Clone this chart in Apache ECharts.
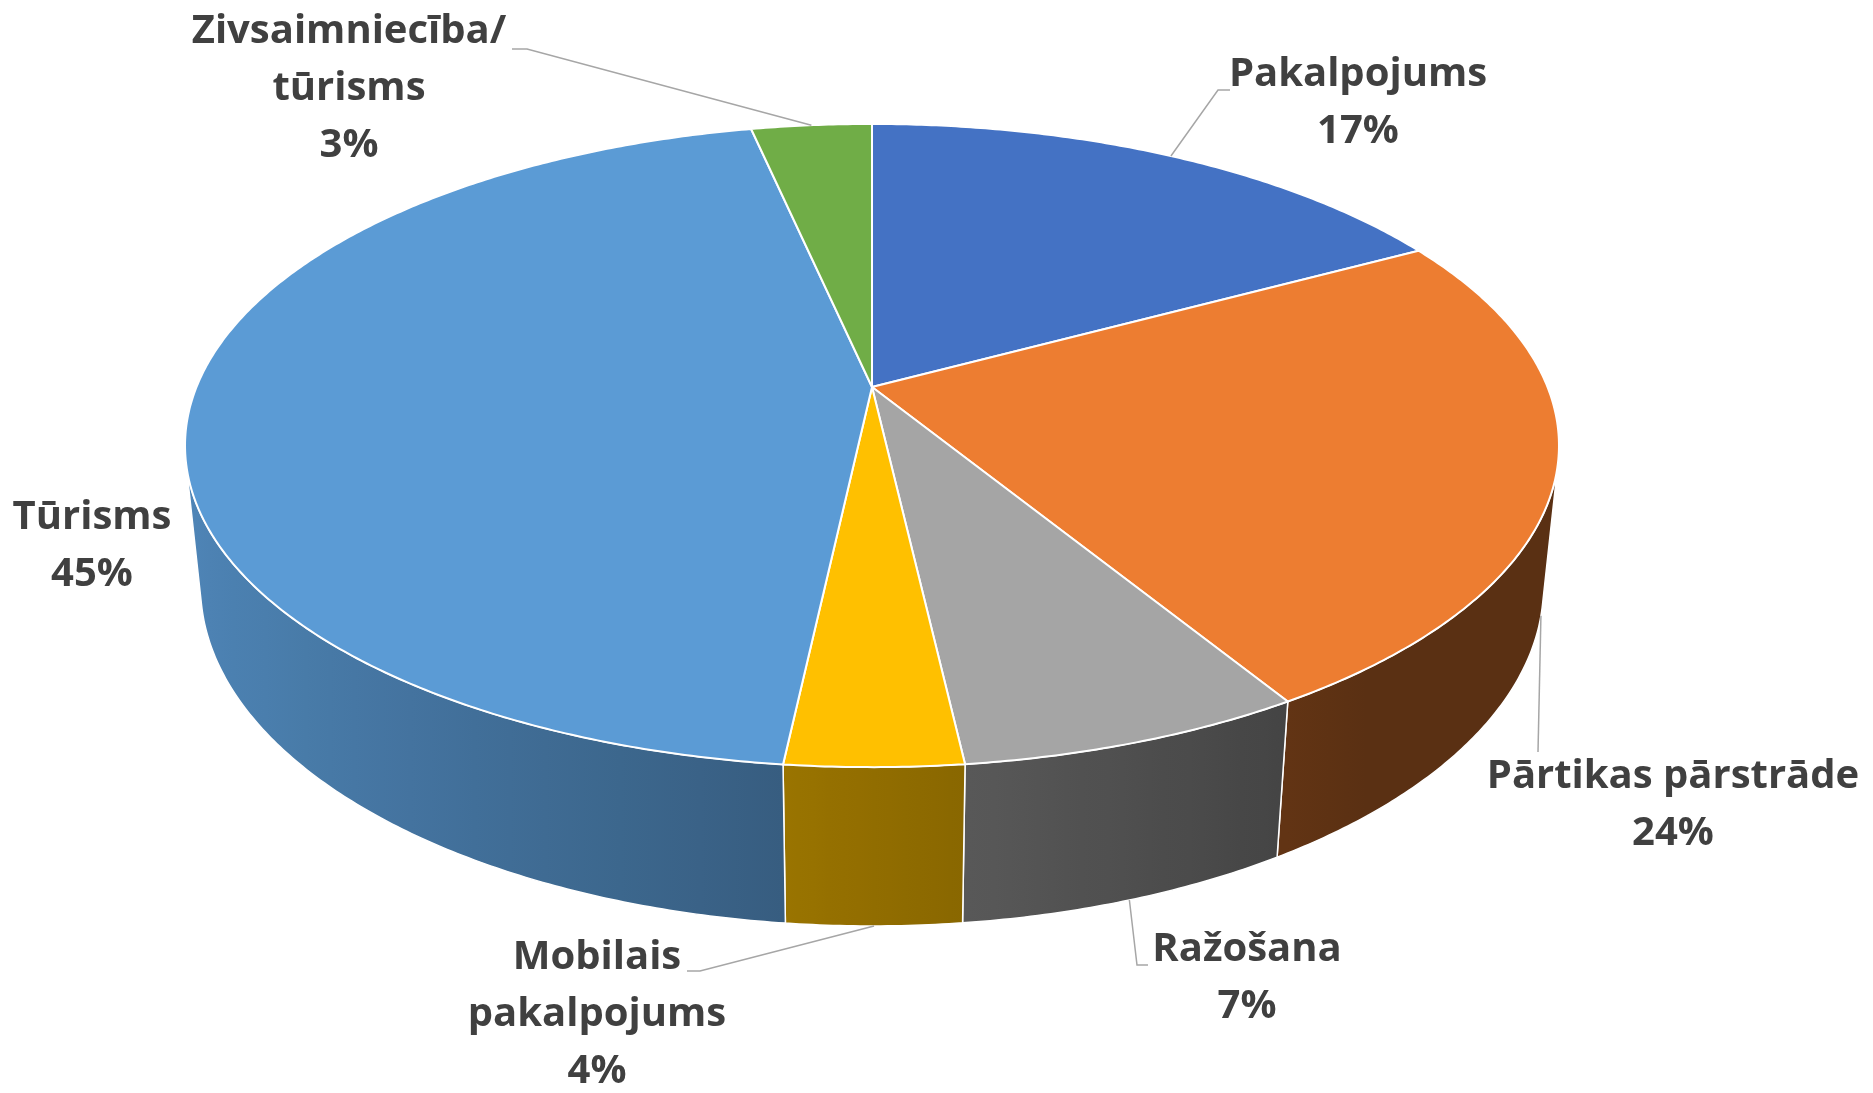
<!DOCTYPE html>
<html>
<head>
<meta charset="utf-8">
<title>Nozares</title>
<script src="https://cdn.jsdelivr.net/npm/echarts@6/dist/echarts.min.js"></script>
<style>
  html, body { margin: 0; padding: 0; background: #ffffff; }
  #chart { width: 1873px; height: 1093px; }
</style>
</head>
<body>
<div id="chart"></div>
<script>
// slice data (percent shares)
const categories = ['Pakalpojums', 'Pārtikas pārstrāde', 'Ražošana', 'Mobilais\npakalpojums', 'Tūrisms', 'Zivsaimniecība/\ntūrisms'];
const values = [17.1, 24.2, 6.9, 3.52, 44.9, 3.38];
const colors = ['#4472C4', '#ED7D31', '#A5A5A5', '#FFC000', '#5B9BD5', '#70AD47'];

// where each label sits (centre x, first baseline y) and its leader elbow points
const labelLayout = [
  { x: 1358, y: 90, level: 'top', leader: [[1218, 90], [1230, 90]] },
  { x: 1673, y: 792, level: 'bottom', leader: [[1538, 752]] },
  { x: 1247, y: 965, level: 'bottom', leader: [[1137, 965], [1148, 965]] },
  { x: 597, y: 973, level: 'bottom', leader: [[700, 971], [687, 971]] },
  { x: 92, y: 533, level: null, leader: null },
  { x: 349, y: 47, level: 'top', leader: [[527, 49], [512, 49]] }
];

// perspective camera for the tilted pie
const geo = { cx: 872, cy: 387, R: 675.5, sinA: 0.4603, cosA: 0.8878, L: 4.877, depth: 0.2367 };
const LINE_H = 57;
const FONT = 'bold 40px "Open Sans"';

const total = values.reduce((a, b) => a + b, 0);
const starts = [];
values.reduce((acc, v) => { starts.push(acc); return acc + v; }, 0);

function project(phi, z) {
  const x = Math.sin(phi);
  const y = -Math.cos(phi);
  const dc = y * geo.cosA + z * geo.sinA;
  const up = -y * geo.sinA + z * geo.cosA;
  const k = geo.L / (geo.L - dc);
  return [geo.cx + geo.R * x * k, geo.cy - geo.R * up * k];
}

function arc(a0, a1, z) {
  const n = Math.max(2, Math.ceil(Math.abs(a1 - a0) / (Math.PI / 360)));
  const pts = [];
  for (let i = 0; i <= n; i++) {
    pts.push(project(a0 + (a1 - a0) * i / n, z));
  }
  return pts;
}

function shade(hex, f) {
  const c = parseInt(hex.slice(1), 16);
  const r = Math.round(((c >> 16) & 255) * f);
  const g = Math.round(((c >> 8) & 255) * f);
  const b = Math.round((c & 255) * f);
  return 'rgb(' + r + ',' + g + ',' + b + ')';
}

function wallFactor(phi) {
  return Math.max(0.38, 0.57 - 0.3 * Math.sin(phi));
}

// half-width of the visible part of the outer wall, around the front
const wallHalf = Math.acos(1 / (geo.L * geo.cosA));

function renderItem(params, api) {
  const i = params.dataIndex;
  const v = api.value(0);
  const a0 = starts[i] / total * Math.PI * 2;
  const a1 = a0 + v / total * Math.PI * 2;
  const mid = (a0 + a1) / 2;
  const children = [];

  // outer wall
  const w0 = Math.max(a0, Math.PI - wallHalf);
  const w1 = Math.min(a1, Math.PI + wallHalf);
  if (w1 > w0) {
    const topArc = arc(w0, w1, 0);
    const botArc = arc(w1, w0, -geo.depth);
    const xs = topArc.map(p => p[0]);
    const xMin = Math.min.apply(null, xs);
    const xMax = Math.max.apply(null, xs);
    const stops = [];
    const n = 12;
    for (let s = 0; s <= n; s++) {
      const phi = w0 + (w1 - w0) * s / n;
      const px = project(phi, 0)[0];
      stops.push({ offset: (px - xMin) / (xMax - xMin || 1), color: shade(colors[i], wallFactor(phi)) });
    }
    stops.sort((p, q) => p.offset - q.offset);
    children.push({
      type: 'polygon',
      z2: 1,
      shape: { points: topArc.concat(botArc) },
      style: {
        fill: new echarts.graphic.LinearGradient(xMin, 0, xMax, 0, stops, true),
        stroke: '#ffffff',
        lineWidth: 1.5
      }
    });
  }

  // top face (pie centre is the projected origin)
  children.push({
    type: 'polygon',
    z2: 2,
    shape: { points: [[geo.cx, geo.cy]].concat(arc(a0, a1, 0)) },
    style: { fill: colors[i], stroke: '#ffffff', lineWidth: 2, lineJoin: 'round' }
  });

  // leader line
  const lay = labelLayout[i];
  if (lay.leader) {
    const anchor = project(mid, lay.level === 'top' ? 0 : -geo.depth);
    children.push({
      type: 'polyline',
      z2: 3,
      shape: { points: [anchor].concat(lay.leader) },
      style: { stroke: '#a6a6a6', lineWidth: 1.5, fill: null }
    });
  }

  // label text
  const lines = categories[i].split('\n').concat([Math.round(v / total * 100) + '%']);
  lines.forEach((t, j) => {
    children.push({
      type: 'text',
      z2: 4,
      style: {
        text: t,
        x: lay.x,
        y: lay.y + j * LINE_H - 15,
        font: FONT,
        fill: '#404040',
        align: 'center',
        verticalAlign: 'middle'
      }
    });
  });

  return { type: 'group', children: children };
}

const chart = echarts.init(document.getElementById('chart'));
chart.setOption({
  animation: false,
  backgroundColor: '#ffffff',
  series: [{
    type: 'custom',
    coordinateSystem: 'none',
    renderItem: renderItem,
    data: values.map(v => [v])
  }]
});
window.addEventListener('resize', () => chart.resize());
</script>
</body>
</html>
